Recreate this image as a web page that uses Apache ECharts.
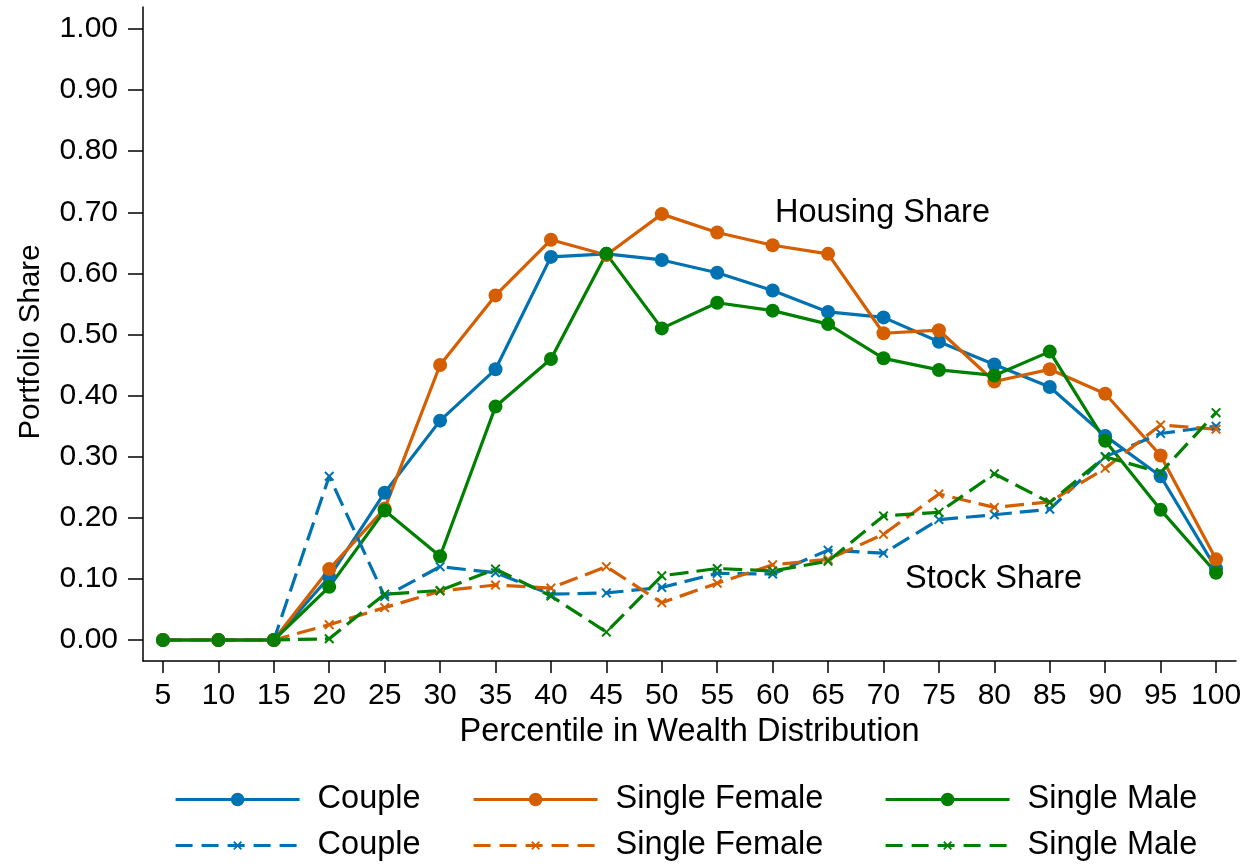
<!DOCTYPE html>
<html>
<head>
<meta charset="utf-8">
<script src="https://cdn.jsdelivr.net/npm/echarts@6/dist/echarts.min.js"></script>
<style>html,body{margin:0;padding:0;background:#fff;}#c{width:1255px;height:865px;}</style>
</head>
<body>
<div id="c"></div>
<script>
const percentiles = [5,10,15,20,25,30,35,40,45,50,55,60,65,70,75,80,85,90,95,100];
const coupleHousing = [0,0,0,0.103,0.241,0.359,0.443,0.627,0.632,0.622,0.601,0.572,0.537,0.528,0.488,0.451,0.414,0.334,0.268,0.117];
const femaleHousing = [0,0,0,0.116,0.215,0.450,0.564,0.655,0.630,0.697,0.667,0.646,0.632,0.502,0.507,0.423,0.443,0.403,0.302,0.132];
const maleHousing   = [0,0,0,0.087,0.212,0.137,0.382,0.460,0.632,0.510,0.552,0.539,0.517,0.461,0.442,0.433,0.472,0.326,0.213,0.110];
const coupleStock   = [0,0,0,0.268,0.071,0.120,0.110,0.075,0.077,0.086,0.109,0.108,0.147,0.142,0.197,0.205,0.214,0.300,0.338,0.350];
const femaleStock   = [0,0,0,0.025,0.053,0.080,0.090,0.085,0.120,0.061,0.093,0.123,0.132,0.173,0.239,0.217,0.226,0.281,0.352,0.345];
const maleStock     = [0,0,0,0.002,0.075,0.081,0.116,0.072,0.013,0.105,0.117,0.113,0.129,0.203,0.209,0.272,0.225,0.300,0.274,0.372];
const yTicks = [0,0.1,0.2,0.3,0.4,0.5,0.6,0.7,0.8,0.9,1.0];
const xTicks = percentiles;
const legendLabels = ['Couple','Single Female','Single Male','Couple','Single Female','Single Male'];

const FONT = "'Liberation Sans', Arial, Helvetica, sans-serif";
const BLUE = '#0072B2', ORANGE = '#D55E00', GREEN = '#008000';
const XPATH = 'path://M0,1.4 L1.4,0 L5,3.6 L8.6,0 L10,1.4 L6.4,5 L10,8.6 L8.6,10 L5,6.4 L1.4,10 L0,8.6 L3.6,5 Z';

function pairs(arr){ return percentiles.map((p,i)=>[p, arr[i]]); }

const names = ['C_H','F_H','M_H','C_S','F_S','M_S'];
const seriesData = [coupleHousing, femaleHousing, maleHousing, coupleStock, femaleStock, maleStock];
const colors = [BLUE, ORANGE, GREEN, BLUE, ORANGE, GREEN];

const series = seriesData.map((d,i)=>{
  const stock = i >= 3;
  return {
    name: names[i],
    type: 'line',
    data: pairs(d),
    symbol: stock ? XPATH : 'circle',
    symbolSize: stock ? 10 : 14,
    showAllSymbol: true,
    lineStyle: { color: colors[i], width: 3.2, type: stock ? [19, 8] : 'solid', cap: 'butt' },
    itemStyle: { color: colors[i], opacity: 1 },
    emphasis: { disabled: true },
    animation: false
  };
});

const legendPos = [[169,778],[467,778],[879,778],[169,824],[467,824],[879,824]];
const legends = names.map((n,i)=>({
  data: [n],
  left: legendPos[i][0],
  top: legendPos[i][1],
  itemWidth: 124,
  itemHeight: i >= 3 ? 11 : 17,
  formatter: () => legendLabels[i],
  lineStyle: { width: 3.2, color: colors[i], type: i >= 3 ? [17, 9] : 'solid' },
  textStyle: { fontSize: 32.5, fontFamily: FONT, color: '#000', padding: [0,0,0,13] },
  selectedMode: false
}));

const chart = echarts.init(document.getElementById('c'));
chart.setOption({
  backgroundColor: '#fff',
  animation: false,
  grid: { left: 143, right: 19, top: 7, bottom: 204 },
  xAxis: {
    type: 'value',
    min: 3.2, max: 101.8,
    name: 'Percentile in Wealth Distribution',
    nameLocation: 'middle',
    nameGap: 53,
    nameTextStyle: { fontSize: 32.5, fontFamily: FONT, color: '#000' },
    axisLine: { show: true, onZero: false, lineStyle: { color: '#000', width: 1.5 } },
    axisTick: { show: true, customValues: xTicks, length: 12, lineStyle: { color: '#000', width: 1.5 } },
    axisLabel: { customValues: xTicks, fontSize: 30, fontFamily: FONT, color: '#000', margin: 20 },
    splitLine: { show: false }
  },
  yAxis: {
    type: 'value',
    min: -0.0344, max: 1.036,
    name: 'Portfolio Share',
    nameLocation: 'middle',
    nameGap: 97,
    nameTextStyle: { fontSize: 29.5, fontFamily: FONT, color: '#000', padding: [0,16,0,0] },
    axisLine: { show: true, onZero: false, lineStyle: { color: '#000', width: 1.5 } },
    axisTick: { show: true, customValues: yTicks, length: 15, lineStyle: { color: '#000', width: 1.5 } },
    axisLabel: { customValues: yTicks, fontSize: 30, fontFamily: FONT, color: '#000', margin: 25,
                 formatter: v => v.toFixed(2) },
    splitLine: { show: false }
  },
  legend: legends,
  graphic: [
    { type: 'text', left: 775, top: 197, style: { text: 'Housing Share', font: "32.5px " + FONT, fill: '#000' } },
    { type: 'text', left: 905, top: 563, style: { text: 'Stock Share', font: "32.5px " + FONT, fill: '#000' } }
  ],
  series: series
});
</script>
</body>
</html>
